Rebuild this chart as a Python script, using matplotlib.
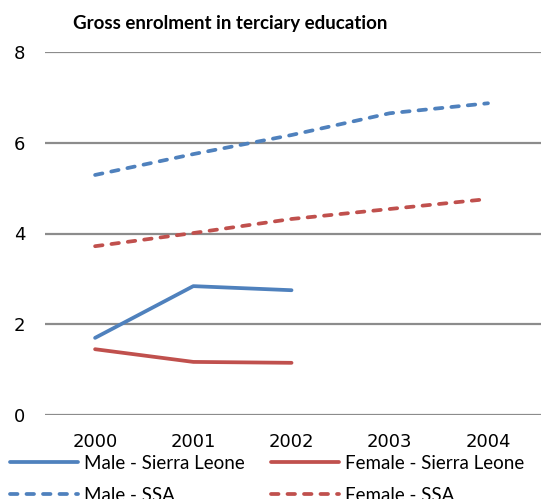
import matplotlib
matplotlib.use("Agg")
import matplotlib.pyplot as plt

plt.rcParams['font.family'] = ['Lato', 'DejaVu Sans']

years = ["2000", "2001", "2002", "2003", "2004"]
male_sl = [1.70, 2.84, 2.75]
female_sl = [1.45, 1.17, 1.15]
male_ssa = [5.29, 5.75, 6.17, 6.65, 6.87]
female_ssa = [3.72, 4.01, 4.32, 4.54, 4.76]
yticks = [0, 2, 4, 6, 8]

blue = "#4F81BD"
red = "#C0504D"

fig = plt.figure(figsize=(5.5, 4.99), dpi=100)
ax = fig.add_axes([45/550, 1-415/499, (541-45)/550, (415-52)/499])

x = list(range(len(years)))
lw = 2.7
dash = (2.0, 2.4)
h1, = ax.plot(x[:len(male_sl)], male_sl, color=blue, lw=lw, label="Male - Sierra Leone", solid_capstyle='round')
h2, = ax.plot(x[:len(female_sl)], female_sl, color=red, lw=lw, label="Female - Sierra Leone", solid_capstyle='round')
h3, = ax.plot(x, male_ssa, color=blue, lw=lw, dashes=dash, dash_capstyle='round', label="Male - SSA")
h4, = ax.plot(x, female_ssa, color=red, lw=lw, dashes=dash, dash_capstyle='round', label="Female - SSA")

ax.set_ylim(0, 8)
ax.set_xlim(-0.51, 4.54)
ax.set_yticks(yticks)
ax.set_yticklabels([str(v) for v in yticks], family='DejaVu Sans')
ax.set_xticks(x)
ax.set_xticklabels(years, family='DejaVu Sans')
ax.grid(axis='y', color='#8c8c8c', lw=1.6)
ax.set_axisbelow(True)
for s in ax.spines.values():
    s.set_visible(False)
ax.tick_params(axis='both', length=0, labelsize=13)
ax.tick_params(axis='y', pad=14)
ax.tick_params(axis='x', pad=13)

fig.text(73/550, 1-24/499, "Gross enrolment in terciary education", fontsize=13.5,
         fontweight='bold', va='center', ha='left')

handles = [h1, h3, h2, h4]
labels = [h.get_label() for h in handles]
fig.legend(handles, labels, loc='upper left', bbox_to_anchor=(10/550, 1-455/499), ncol=2,
           frameon=False, fontsize=13.5, handlelength=3.6, handletextpad=0.35,
           columnspacing=1.4, labelspacing=0.8, borderaxespad=0, borderpad=0)

fig.savefig("out.png", dpi=100)
